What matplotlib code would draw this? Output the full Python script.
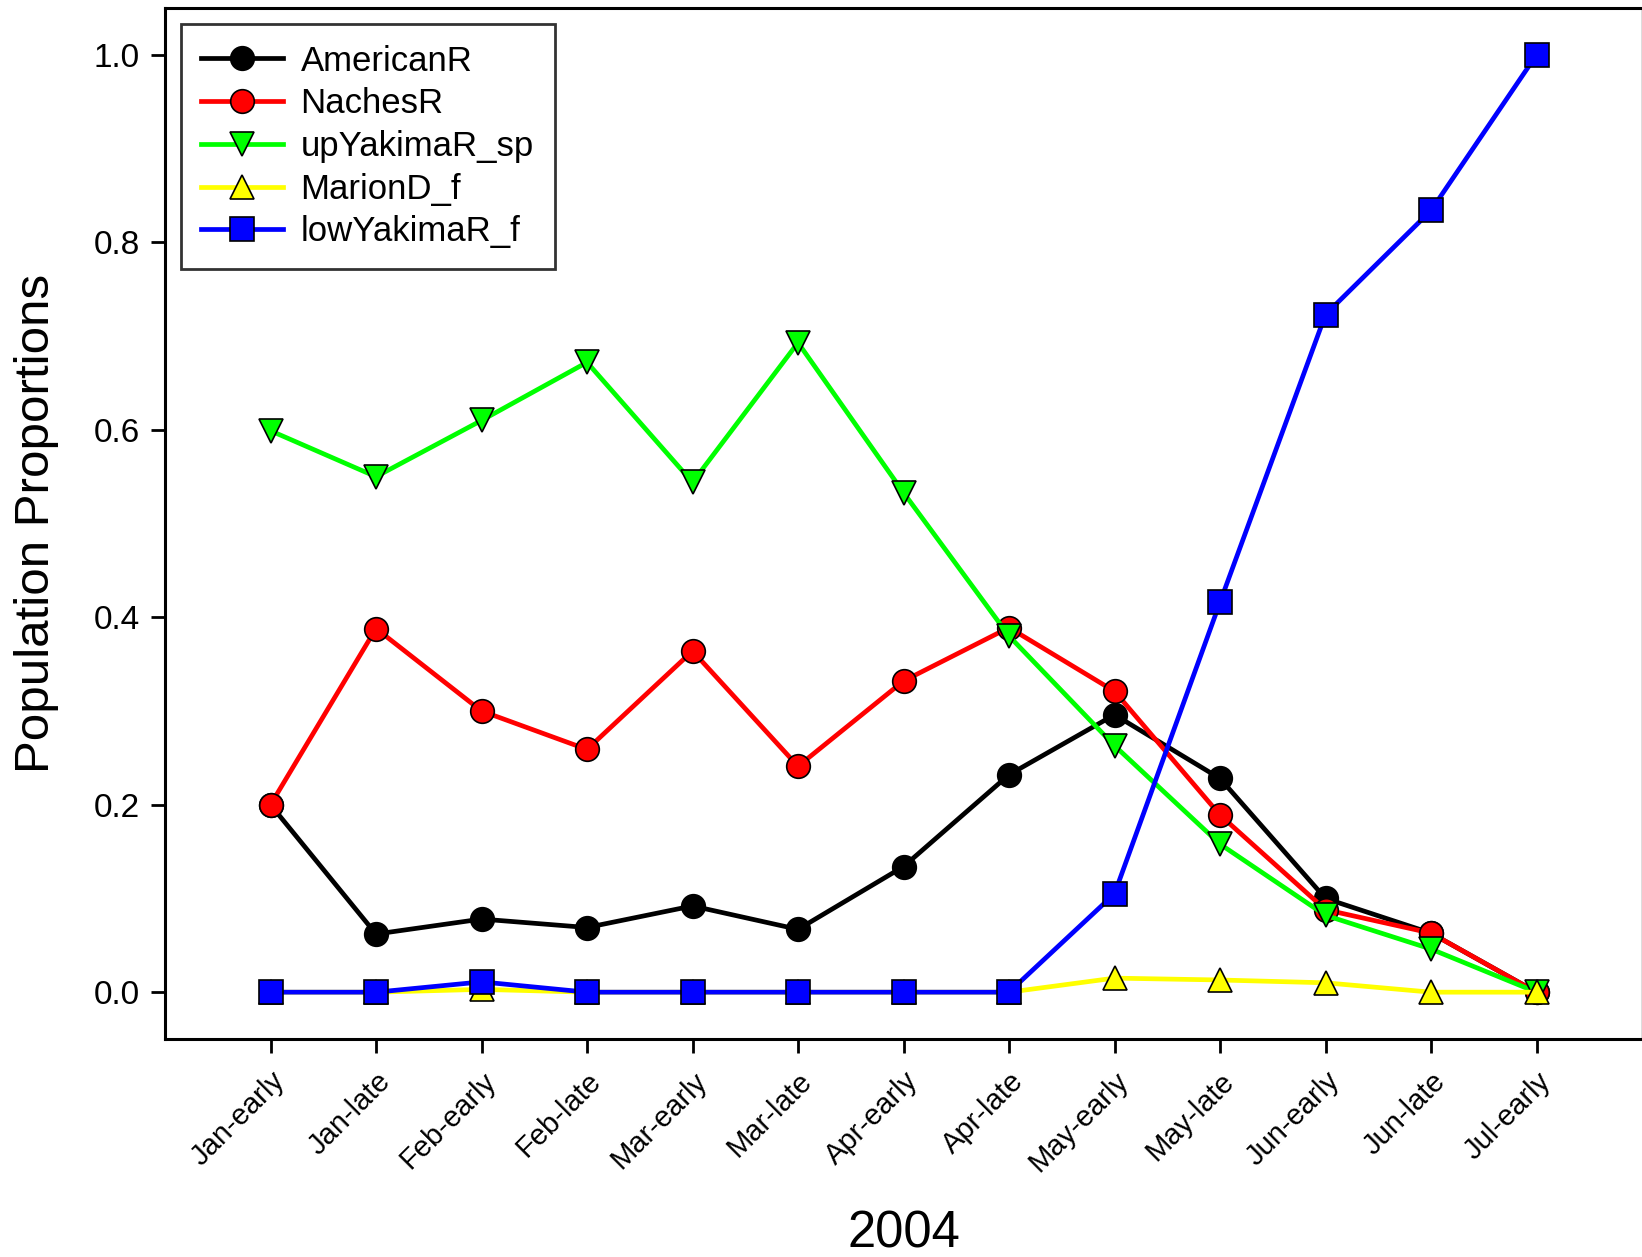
import matplotlib
matplotlib.use('Agg')
import matplotlib.pyplot as plt
import numpy as np

plt.rcParams['font.family'] = ['Liberation Sans', 'DejaVu Sans']

periods = ['Jan-early', 'Jan-late', 'Feb-early', 'Feb-late', 'Mar-early', 'Mar-late',
           'Apr-early', 'Apr-late', 'May-early', 'May-late', 'Jun-early', 'Jun-late',
           'Jul-early']

american_r = [0.200, 0.062, 0.078, 0.069, 0.092, 0.067, 0.134, 0.232, 0.296, 0.228, 0.100, 0.063, 0.0]
naches_r = [0.200, 0.388, 0.300, 0.259, 0.364, 0.241, 0.332, 0.389, 0.321, 0.189, 0.088, 0.063, 0.0]
up_yakima_sp = [0.599, 0.550, 0.610, 0.672, 0.544, 0.693, 0.533, 0.380, 0.263, 0.158, 0.082, 0.046, 0.0]
marion_d_f = [0.0, 0.0, 0.003, 0.0, 0.0, 0.0, 0.0, 0.0, 0.015, 0.013, 0.010, 0.0, 0.0]
low_yakima_f = [0.0, 0.0, 0.011, 0.0, 0.0, 0.0, 0.0, 0.0, 0.105, 0.416, 0.723, 0.834, 1.0]

series = [
    ('AmericanR', american_r, 'black', 'o'),
    ('NachesR', naches_r, 'red', 'o'),
    ('upYakimaR_sp', up_yakima_sp, '#00ff00', 'v'),
    ('MarionD_f', marion_d_f, 'yellow', '^'),
    ('lowYakimaR_f', low_yakima_f, 'blue', 's'),
]

fig = plt.figure(figsize=(16.42, 12.57), dpi=100)
ax = fig.add_axes([0.1005, 0.1734, 0.8995, 0.8202])

x = np.arange(len(periods))
for name, vals, color, marker in series:
    ax.plot(x, vals, color=color, lw=3.4, marker=marker, markersize=17,
            markerfacecolor=color, markeredgecolor='black', markeredgewidth=1.2,
            label=name)

ax.set_xlim(-1, 13)
ax.set_ylim(-0.05, 1.05)
ax.set_xticks(x)
ax.set_xticklabels(periods, rotation=45, ha='right', rotation_mode='anchor', fontsize=21)
ax.set_yticks([0.0, 0.2, 0.4, 0.6, 0.8, 1.0])
ax.set_yticklabels(['0.0', '0.2', '0.4', '0.6', '0.8', '1.0'], fontsize=24)
ax.tick_params(axis='both', direction='out', length=10, width=2, pad=8)
ax.tick_params(axis='x', pad=10)

for side in ['left', 'bottom', 'top']:
    ax.spines[side].set_linewidth(2.2)
ax.spines['right'].set_linewidth(1)
ax.spines['right'].set_color('#555555')

ax.set_ylabel('Population Proportions', fontsize=35.5)
ax.yaxis.set_label_coords(-0.0869, 0.5)
ax.yaxis.label.set_va('center')
ax.set_xlabel('2004', fontsize=36.5)
ax.xaxis.set_label_coords(0.5, -0.189)
ax.xaxis.label.set_va('center')

leg = ax.legend(loc='upper left', fontsize=25, frameon=True, fancybox=False,
                handlelength=2.35, labelspacing=0.28, borderaxespad=0.45,
                borderpad=0.6, handletextpad=0.5)
leg.get_frame().set_edgecolor('black')
leg.get_frame().set_linewidth(2)

fig.savefig('out.png', dpi=100)
